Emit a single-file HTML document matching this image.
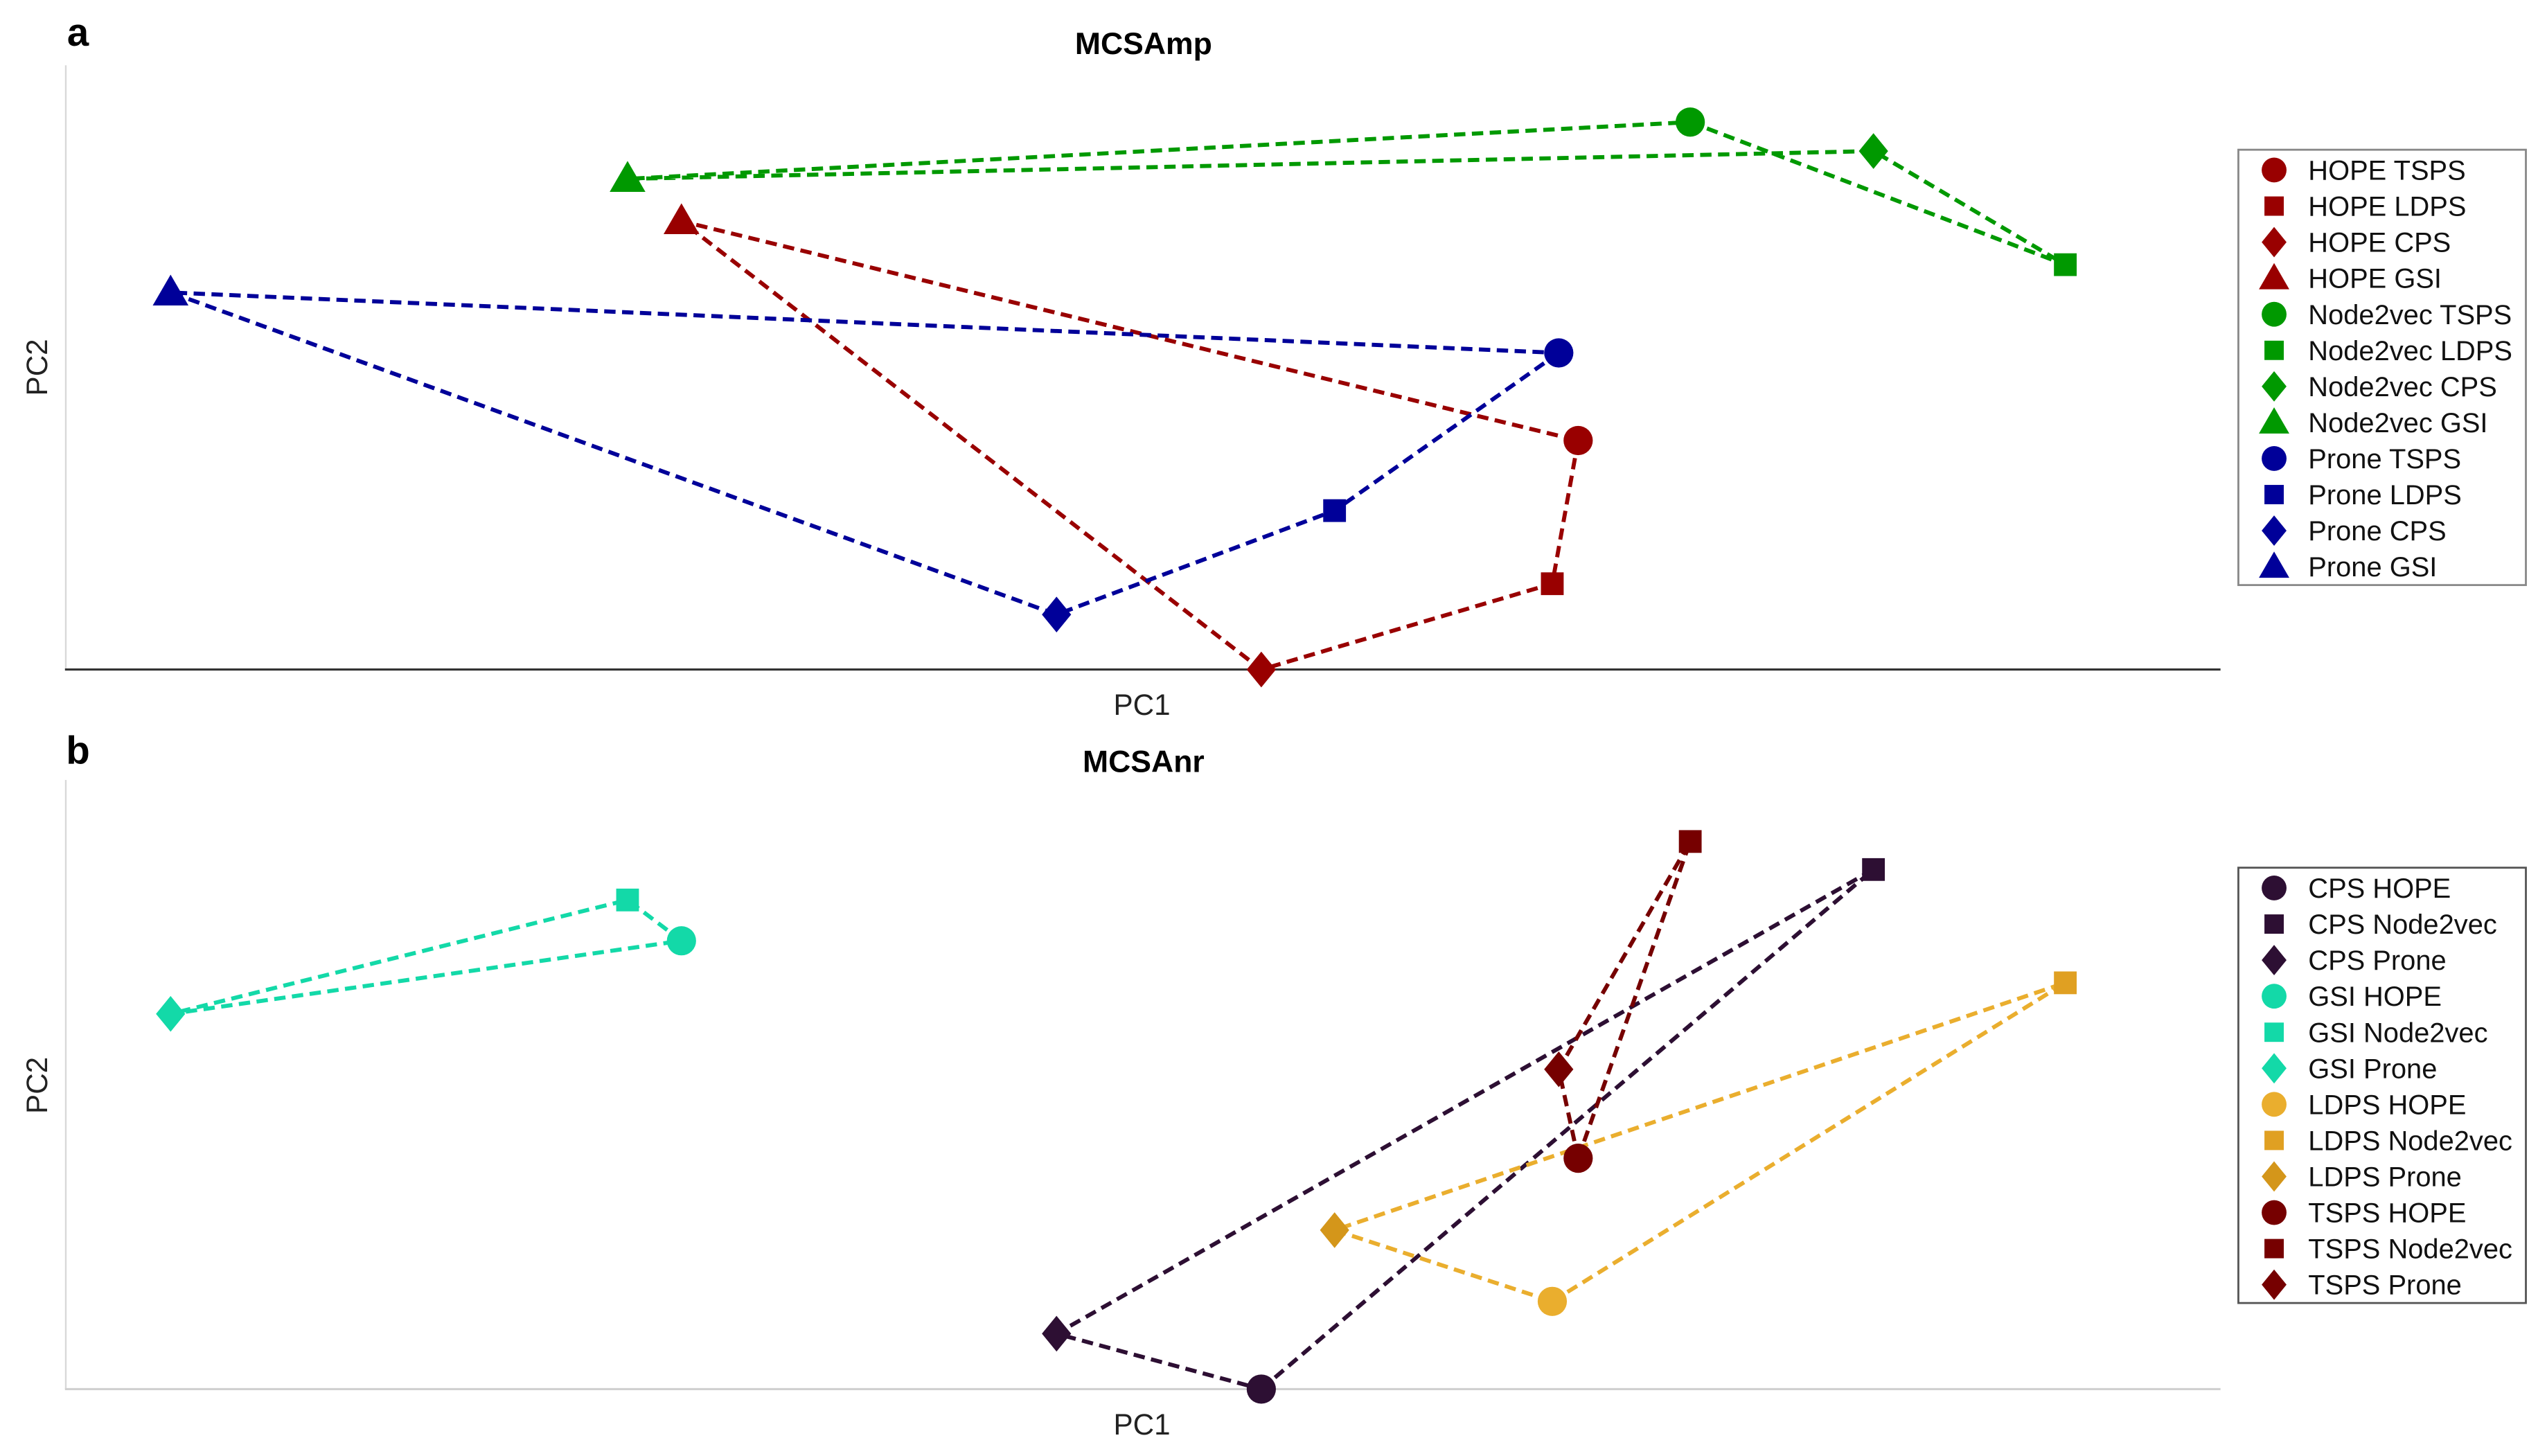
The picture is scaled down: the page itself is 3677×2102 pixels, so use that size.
<!DOCTYPE html>
<html><head><meta charset="utf-8">
<style>
html,body{margin:0;padding:0;background:#fff;}
svg{display:block;font-family:"Liberation Sans",sans-serif;}
</style></head>
<body>
<svg id="fig" width="3677" height="2102" viewBox="0 0 1568 896" xmlns="http://www.w3.org/2000/svg">
<rect x="0" y="0" width="1568" height="896" fill="#fff"/>
<g id="panelA">
  <text x="48" y="28" font-size="24" font-weight="bold" text-anchor="middle">a</text>
  <text x="704" y="33" font-size="19" font-weight="bold" text-anchor="middle">MCSAmp</text>
  <line x1="40.5" y1="40" x2="40.5" y2="412" stroke="#d8d8d8" stroke-width="1"/>
  <line x1="40" y1="412" x2="1367" y2="412" stroke="#333" stroke-width="1.3"/>
  <text x="703" y="440" font-size="18" text-anchor="middle" fill="#222">PC1</text>
  <text x="0" y="0" font-size="18" text-anchor="middle" fill="#222" transform="translate(29,226) rotate(-90)">PC2</text>
  <rect x="1378" y="92" width="177" height="268" fill="#fff" stroke="#888" stroke-width="1.2"/>
</g>
<g id="panelB">
  <text x="48" y="470" font-size="24" font-weight="bold" text-anchor="middle">b</text>
  <text x="704" y="475" font-size="19" font-weight="bold" text-anchor="middle">MCSAnr</text>
  <line x1="40.5" y1="480" x2="40.5" y2="855" stroke="#d8d8d8" stroke-width="1"/>
  <line x1="40" y1="855" x2="1367" y2="855" stroke="#d0d0d0" stroke-width="1.3"/>
  <text x="703" y="883" font-size="18" text-anchor="middle" fill="#222">PC1</text>
  <text x="0" y="0" font-size="18" text-anchor="middle" fill="#222" transform="translate(29,668) rotate(-90)">PC2</text>
  <rect x="1378" y="534" width="177" height="268" fill="#fff" stroke="#555" stroke-width="1.2"/>
</g>
</svg>
<script>
// Panel a data (PC1, PC2 arbitrary units 0-100), order: TSPS, LDPS, CPS, GSI
const aGroups = ["HOPE", "Node2vec", "Prone"];
const aPoints = ["TSPS", "LDPS", "CPS", "GSI"];
const aColors = ["#990000", "#009900", "#000099"];
const aPC1 = [[70.2, 69.0, 55.5, 28.6], [75.4, 92.8, 83.9, 26.1], [69.3, 58.9, 46.0, 4.9]];
const aPC2 = [[37.9, 14.2, 0.0, 74.2], [90.6, 67.0, 85.8, 81.2], [52.4, 26.3, 9.1, 62.4]];
const aShapes = ["circle", "square", "diamond", "triangle"];

// Panel b data, order: HOPE, Node2vec, Prone
const bGroups = ["CPS", "GSI", "LDPS", "TSPS"];
const bPoints = ["HOPE", "Node2vec", "Prone"];
const bColors = [["#2D0F33", "#2D0F33", "#2D0F33"], ["#13D9A8", "#13D9A8", "#13D9A8"], ["#EAAE2E", "#E0A022", "#D4961A"], ["#760000", "#760000", "#760000"]];
const bPC1 = [[55.5, 83.9, 46.0], [28.6, 26.1, 4.9], [69.0, 92.8, 58.9], [70.2, 75.4, 69.3]];
const bPC2 = [[0.0, 85.3, 9.1], [73.6, 80.3, 61.6], [14.4, 66.7, 26.1], [37.9, 89.9, 52.5]];
const bShapes = ["circle", "square", "diamond"];

const NS = "http://www.w3.org/2000/svg";
function xS(v) { return 40 + v * 13.27; }
function yA(v) { return 412 - v * 3.72; }
function yB(v) { return 855 - v * 3.75; }

function marker(parent, shape, cx, cy, color, s) {
  let el;
  if (shape === "circle") {
    el = document.createElementNS(NS, "ellipse");
    el.setAttribute("cx", cx); el.setAttribute("cy", cy);
    el.setAttribute("rx", 9 * s); el.setAttribute("ry", 9 * s);
  } else if (shape === "square") {
    el = document.createElementNS(NS, "rect");
    el.setAttribute("x", cx - 7 * s); el.setAttribute("y", cy - 7 * s);
    el.setAttribute("width", 14 * s); el.setAttribute("height", 14 * s);
  } else if (shape === "diamond") {
    el = document.createElementNS(NS, "polygon");
    el.setAttribute("points", `${cx},${cy - 11 * s} ${cx + 9 * s},${cy} ${cx},${cy + 11 * s} ${cx - 9 * s},${cy}`);
  } else {
    el = document.createElementNS(NS, "polygon");
    el.setAttribute("points", `${cx},${cy - 11 * s} ${cx + 11 * s},${cy + 8 * s} ${cx - 11 * s},${cy + 8 * s}`);
  }
  el.setAttribute("fill", color);
  parent.appendChild(el);
  return el;
}

function dashed(parent, pts, color) {
  const p = document.createElementNS(NS, "polygon");
  p.setAttribute("points", pts.map(q => q.join(",")).join(" "));
  p.setAttribute("fill", "none");
  p.setAttribute("stroke", color);
  p.setAttribute("stroke-width", "2.5");
  p.setAttribute("stroke-dasharray", "7 4");
  parent.appendChild(p);
  return p;
}

const gA = document.getElementById("panelA");
const gB = document.getElementById("panelB");

aGroups.forEach((g, gi) => {
  const pts = aPC1[gi].map((v, i) => [xS(v), yA(aPC2[gi][i])]);
  const ln = dashed(gA, pts, aColors[gi]);
  
  
});
aGroups.forEach((g, gi) => {
  aPoints.forEach((p, i) => {
    const m = marker(gA, aShapes[i], xS(aPC1[gi][i]), yA(aPC2[gi][i]), aColors[gi], 1);
    
    
  });
});
let k = 0;
aGroups.forEach((g, gi) => {
  aPoints.forEach((p, i) => {
    const y = 104.5 + k * 22.2;
    const m = marker(gA, aShapes[i], 1400, y, aColors[gi], 0.85);
    
    
    const t = document.createElementNS(NS, "text");
    t.setAttribute("x", 1421); t.setAttribute("y", y + 6);
    t.setAttribute("font-size", "17"); t.setAttribute("fill", "#111");
    t.textContent = g + " " + p;
    
    
    gA.appendChild(t);
    k++;
  });
});

bGroups.forEach((g, gi) => {
  const pts = bPC1[gi].map((v, i) => [xS(v), yB(bPC2[gi][i])]);
  const ln = dashed(gB, pts, bColors[gi][0]);
  
  
});
bGroups.forEach((g, gi) => {
  bPoints.forEach((p, i) => {
    const m = marker(gB, bShapes[i], xS(bPC1[gi][i]), yB(bPC2[gi][i]), bColors[gi][i], 1);
    
    
  });
});
k = 0;
bGroups.forEach((g, gi) => {
  bPoints.forEach((p, i) => {
    const y = 546.5 + k * 22.2;
    const m = marker(gB, bShapes[i], 1400, y, bColors[gi][i], 0.85);
    
    
    const t = document.createElementNS(NS, "text");
    t.setAttribute("x", 1421); t.setAttribute("y", y + 6);
    t.setAttribute("font-size", "17"); t.setAttribute("fill", "#111");
    t.textContent = g + " " + p;
    
    
    gB.appendChild(t);
    k++;
  });
});
</script>
</body></html>
